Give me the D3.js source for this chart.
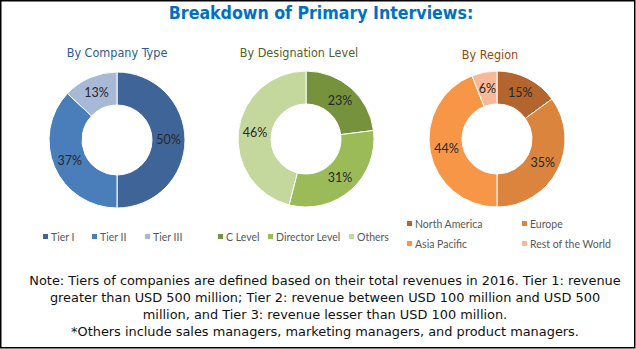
<!DOCTYPE html>
<html><head><meta charset="utf-8">
<script src="https://cdn.jsdelivr.net/npm/d3@7/dist/d3.min.js"></script>
<style>
html,body{margin:0;padding:0;background:#fff;}
svg{display:block;}
</style></head>
<body>
<svg id="chart" width="636" height="349"></svg>
<script>
const title = "Breakdown of Primary Interviews:";
const companyCategories = ["Tier I", "Tier II", "Tier III"];
const companyValues = [50, 37, 13];
const designationCategories = ["C Level", "Director Level", "Others"];
const designationValues = [23, 31, 46];
const regionCategories = ["North America", "Europe", "Asia Pacific", "Rest of the World"];
const regionValues = [15, 35, 44, 6];
const noteLines = [
  "Note: Tiers of companies are defined based on their total revenues in 2016. Tier 1: revenue",
  "greater than USD 500 million; Tier 2: revenue between USD 100 million and USD 500",
  "million, and Tier 3: revenue lesser than USD 100 million.",
  "*Others include sales managers, marketing managers, and product managers."
];

const svg = d3.select("#chart");
const W = 636, H = 349;

svg.append("rect").attr("x", 0.75).attr("y", 0.75).attr("width", W - 2).attr("height", H - 2)
  .attr("fill", "#fff").attr("stroke", "#000").attr("stroke-width", 1.5);

svg.append("text").attr("x", 321).attr("y", 19).attr("text-anchor", "middle")
  .attr("font-family", "'DejaVu Sans Condensed', 'DejaVu Sans', sans-serif")
  .attr("font-weight", "bold").attr("font-size", 17.6).attr("fill", "#0070C0")
  .text(title);

const panels = [
  { title: "By Company Type", tcolor: "#2F5A8C", tx: 117, ty: 57, cx: 117, cy: 140,
    cats: companyCategories, vals: companyValues,
    colors: ["#3F6598", "#4A7EBB", "#A8B9D7"],
    legend: { cols: [43, 92, 145], rows: [237], ncol: 3 } },
  { title: "By Designation Level", tcolor: "#4F6228", tx: 299, ty: 57, cx: 306, cy: 139,
    cats: designationCategories, vals: designationValues,
    colors: ["#76923C", "#9BBB59", "#C4D79C"],
    legend: { cols: [218, 268, 349], rows: [237], ncol: 3 } },
  { title: "By Region", tcolor: "#984807", tx: 490, ty: 59, cx: 497, cy: 139,
    cats: regionCategories, vals: regionValues,
    colors: ["#B3652D", "#DA843D", "#F79646", "#F9B898"],
    legend: { cols: [407, 522], rows: [224, 244], ncol: 2 } }
];

const outerR = 68, innerR = 35;
const arc = d3.arc().innerRadius(innerR).outerRadius(outerR);
const labelArc = d3.arc().innerRadius((innerR + outerR) / 2).outerRadius((innerR + outerR) / 2);
const pie = d3.pie().sort(null).value(d => d);

panels.forEach(p => {
  svg.append("text").attr("x", p.tx).attr("y", p.ty).attr("text-anchor", "middle")
    .attr("font-family", "'DejaVu Sans Condensed', 'DejaVu Sans', sans-serif")
    .attr("font-size", 12.5).attr("fill", p.tcolor).text(p.title);

  const color = d3.scaleOrdinal().domain(p.cats).range(p.colors);
  const g = svg.append("g").attr("transform", `translate(${p.cx},${p.cy})`);
  const arcs = pie(p.vals);
  g.selectAll("path").data(arcs).join("path")
    .attr("d", arc).attr("fill", (d, i) => color(p.cats[i]))
    .attr("stroke", "#fff").attr("stroke-width", 1);
  g.selectAll("text").data(arcs).join("text")
    .attr("transform", d => `translate(${labelArc.centroid(d)})`)
    .attr("text-anchor", "middle").attr("dy", "0.35em")
    .attr("font-family", "Lato, 'Open Sans', sans-serif").attr("font-size", 12.5)
    .attr("fill", "#262626")
    .text(d => d.data + "%");

  const lg = svg.append("g");
  p.cats.forEach((c, i) => {
    const x = p.legend.cols[i % p.legend.ncol];
    const y = p.legend.rows[Math.floor(i / p.legend.ncol)];
    lg.append("rect").attr("x", x).attr("y", y - 3).attr("width", 5).attr("height", 5)
      .attr("fill", color(c));
    lg.append("text").attr("x", x + 8).attr("y", y).attr("dy", "0.35em")
      .attr("font-family", "Lato, 'Open Sans', sans-serif").attr("font-size", 10.5)
      .attr("fill", "#595959").text(c);
  });
});

const note = svg.append("g");
noteLines.forEach((l, i) => {
  note.append("text").attr("x", 325).attr("y", 280 + i * 17.3).attr("dy", "0.35em")
    .attr("text-anchor", "middle")
    .attr("font-family", "'DejaVu Sans', sans-serif")
    .attr("font-size", 12.9).attr("fill", "#111").text(l);
});
</script>
</body></html>
